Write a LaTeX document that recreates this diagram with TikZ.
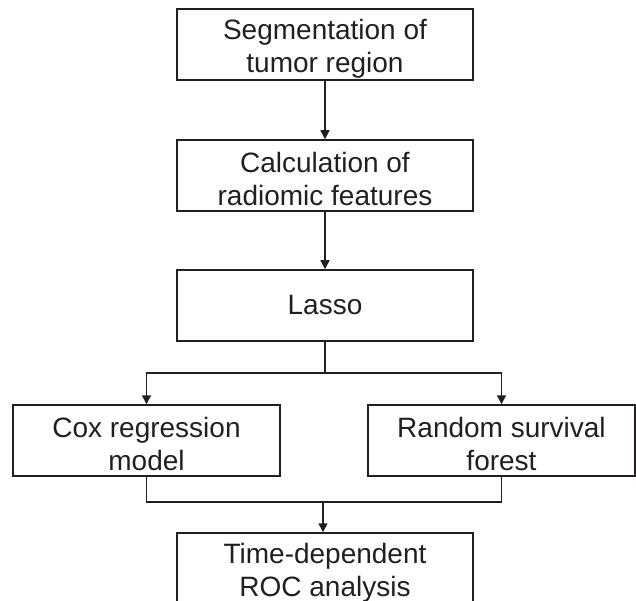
\documentclass[tikz,border=0pt]{standalone}
\usepackage{fontspec}
\setmainfont{Liberation Sans}
\usetikzlibrary{arrows.meta}
\definecolor{ink}{HTML}{231F20}
\newcommand\padtop{\rule{0pt}{28pt}}
\begin{document}
\begin{tikzpicture}[x=1pt,y=-1pt,
  box/.style={draw=ink, line width=1.5pt, rectangle, minimum height=71pt, inner sep=0pt,
    align=center, text=ink, font=\fontsize{28}{33}\selectfont},
  wide/.style={box, minimum width=296pt},
  side/.style={box, minimum width=267pt},
  conn/.style={draw=ink, line width=1.5pt},
  arr/.style={conn, -{Triangle[length=9pt,width=9pt]}}]
\useasboundingbox (0,0) rectangle (636,601);
\clip (0,0) rectangle (636,601);
\node[wide] (b1) at (325,44.5) {\padtop Segmentation of\\tumor region};
\node[wide] (b2) at (325,175.5) {\padtop Calculation of\\radiomic features};
\node[wide] (b3) at (325,305.5) {Lasso};
\node[side] (cox) at (146.5,440.5) {\padtop Cox regression\\model};
\node[side] (rsf) at (501.5,440.5) {\padtop Random survival\\forest};
\node[wide] (b6) at (325,568.5) {\padtop Time-dependent\\ROC analysis};
\coordinate (split) at (325,373);
\coordinate (merge) at (323,502);
\draw[arr] (b1) -- (b2);
\draw[arr] (b2) -- (b3);
\draw[conn] (b3) -- (split);
\draw[arr] (split) -| (cox);
\draw[arr] (split) -| (rsf);
\draw[conn] (cox) |- (merge);
\draw[conn] (rsf) |- (merge);
\draw[arr] (merge) -- (merge |- b6.north);
\end{tikzpicture}
\end{document}
